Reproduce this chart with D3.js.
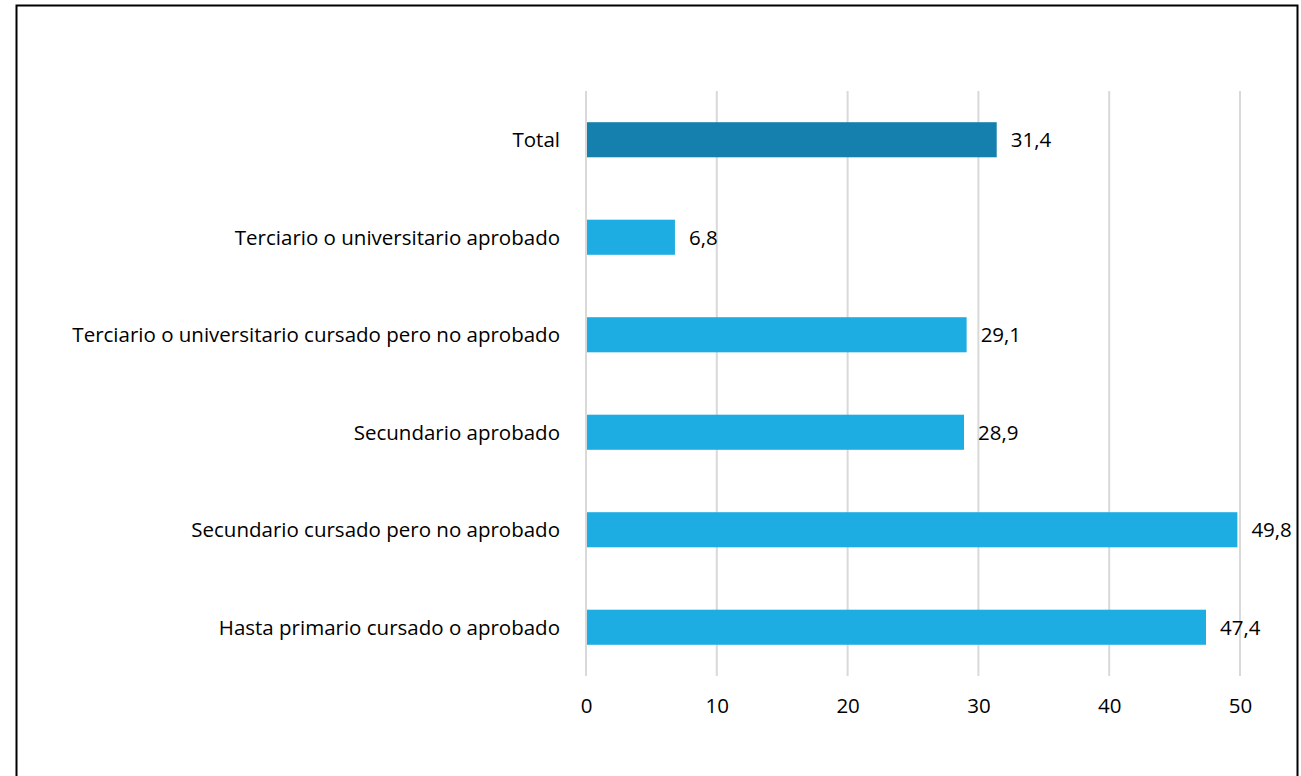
<!DOCTYPE html>
<html>
<head>
<meta charset="utf-8">
<script src="https://cdn.jsdelivr.net/npm/d3@7"></script>
<style>
  body { margin: 0; background: #fff; }
  text { font-family: "Open Sans", "Noto Sans", sans-serif; fill: #000; }
</style>
</head>
<body>
<div id="chart"></div>
<script>
// categories top to bottom
const categories = [
  "Total",
  "Terciario o universitario aprobado",
  "Terciario o universitario cursado pero no aprobado",
  "Secundario aprobado",
  "Secundario cursado pero no aprobado",
  "Hasta primario cursado o aprobado"
];
const values = [31.4, 6.8, 29.1, 28.9, 49.8, 47.4];
const tickValues = [0, 10, 20, 30, 40, 50];

const W = 1301, H = 776;
const fontSize = 20.5;
const svg = d3.select("#chart").append("svg")
  .attr("width", W)
  .attr("height", H);

// outer frame
svg.append("rect")
  .attr("x", 16.5).attr("y", 5.5)
  .attr("width", 1281).attr("height", 800)
  .attr("fill", "none")
  .attr("stroke", "#000")
  .attr("stroke-width", 2);

const x = d3.scaleLinear().domain([0, 50]).range([586, 1240]);
const y = d3.scaleBand().domain(categories).range([91, 676])
  .paddingInner(0.64).paddingOuter(0.32);

// gridlines
svg.append("g").selectAll("line")
  .data(tickValues)
  .join("line")
  .attr("x1", d => x(d)).attr("x2", d => x(d))
  .attr("y1", 91).attr("y2", 676)
  .attr("stroke", "#d9d9d9")
  .attr("stroke-width", 2);

// x axis labels
const xAxis = d3.axisBottom(x).tickValues(tickValues).tickSize(0).tickPadding(0);
const gx = svg.append("g").attr("transform", "translate(0,713)").call(xAxis);
gx.select(".domain").remove();
gx.selectAll("text")
  .attr("dy", null).attr("y", 0)
  .attr("fill", "#000")
  .style("font-size", fontSize + "px")
  .style("font-family", '"Open Sans", "Noto Sans", sans-serif');

// bars
svg.append("g").selectAll("rect")
  .data(values)
  .join("rect")
  .attr("x", x(0) + 1)
  .attr("y", (d, i) => y(categories[i]))
  .attr("width", d => x(d) - x(0) - 1)
  .attr("height", y.bandwidth())
  .attr("fill", (d, i) => i === 0 ? "#1580ad" : "#1eade3");

// category labels
svg.append("g").selectAll("text")
  .data(categories)
  .join("text")
  .attr("x", 560)
  .attr("y", d => y(d) + y.bandwidth() / 2 + 7.5)
  .attr("text-anchor", "end")
  .style("font-size", fontSize + "px")
  .text(d => d);

// value labels
svg.append("g").selectAll("text")
  .data(values)
  .join("text")
  .attr("x", d => x(d) + 14)
  .attr("y", (d, i) => y(categories[i]) + y.bandwidth() / 2 + 7.5)
  .style("font-size", fontSize + "px")
  .text(d => d.toFixed(1).replace(".", ","));
</script>
</body>
</html>
